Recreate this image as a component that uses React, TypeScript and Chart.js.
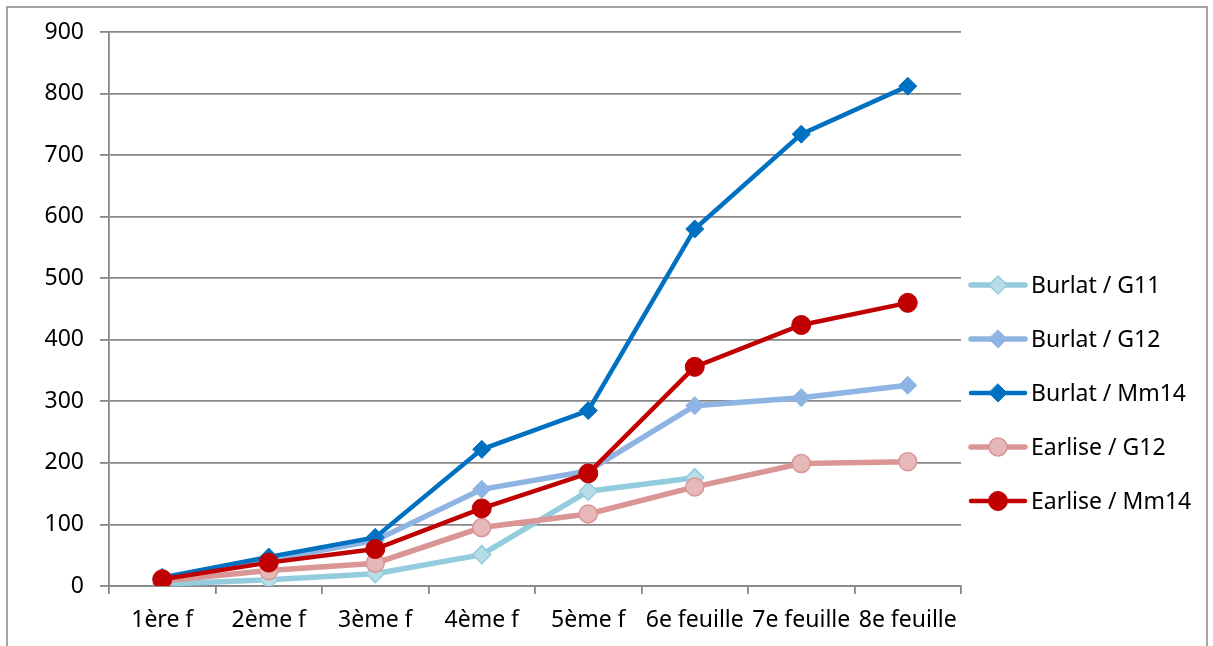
import React, { useEffect, useRef } from "react";
import { Chart, registerables } from "chart.js";

Chart.register(...registerables);

const categories = ["1ère f", "2ème f", "3ème f", "4ème f", "5ème f", "6e feuille", "7e feuille", "8e feuille"];
const burlatG11 = [3, 10, 20, 51, 154, 176, null, null];
const burlatG12 = [12, 42, 74, 157, 187, 293, 306, 326];
const burlatMm14 = [14, 47, 79, 222, 285, 580, 734, 812];
const earliseG12 = [8, 25, 37, 95, 117, 161, 199, 202];
const earliseMm14 = [11, 38, 60, 126, 183, 356, 424, 460];
const seriesNames = ["Burlat / G11", "Burlat / G12", "Burlat / Mm14", "Earlise / G12", "Earlise / Mm14"];
const yTicks = [0, 100, 200, 300, 400, 500, 600, 700, 800, 900];

const FONT = '"Noto Sans", sans-serif';
const GRID = "#878787";

function drawMarker(ctx: CanvasRenderingContext2D, style: string, x: number, y: number, r: number, fill: string, stroke: string, bw: number) {
  ctx.save();
  ctx.beginPath();
  if (style === "rectRot") {
    ctx.moveTo(x, y - r);
    ctx.lineTo(x + r, y);
    ctx.lineTo(x, y + r);
    ctx.lineTo(x - r, y);
    ctx.closePath();
  } else {
    ctx.arc(x, y, r, 0, Math.PI * 2);
  }
  ctx.fillStyle = fill;
  ctx.fill();
  if (bw > 0) {
    ctx.lineWidth = bw;
    ctx.strokeStyle = stroke;
    ctx.stroke();
  }
  ctx.restore();
}

const framePlugin = {
  id: "frameAndLegend",
  beforeDraw(chart: any) {
    const ctx = chart.ctx as CanvasRenderingContext2D;
    ctx.save();
    ctx.fillStyle = "#fff";
    ctx.fillRect(0, 0, chart.width, chart.height);
    ctx.strokeStyle = GRID;
    ctx.lineWidth = 1.5;
    ctx.strokeRect(7, 7, 1200, 700);
    ctx.restore();
  },
  afterDraw(chart: any) {
    const ctx = chart.ctx as CanvasRenderingContext2D;
    ctx.save();
    chart.data.datasets.forEach((ds: any, i: number) => {
      const y = 285 + i * 54;
      ctx.beginPath();
      ctx.moveTo(971, y);
      ctx.lineTo(1025, y);
      ctx.lineWidth = ds.borderWidth;
      ctx.strokeStyle = ds.borderColor;
      ctx.lineCap = "round";
      ctx.stroke();
      drawMarker(ctx, ds.pointStyle, 998, y, ds.pointRadius, ds.pointBackgroundColor, ds.pointBorderColor, ds.pointBorderWidth);
      ctx.fillStyle = "#000";
      ctx.font = `23px ${FONT}`;
      ctx.textBaseline = "middle";
      ctx.textAlign = "left";
      ctx.fillText(ds.label, 1031, y + 1);
    });
    ctx.restore();
  },
};

export default function App() {
  const ref = useRef<HTMLCanvasElement | null>(null);
  useEffect(() => {
    document.body.style.margin = "0";
    const canvas = ref.current!;
    const mk = (label: string, data: any[], line: string, fill: string, border: string, style: string, r: number, lw: number, bw: number, order: number) => ({
      label,
      data,
      borderColor: line,
      backgroundColor: line,
      borderWidth: lw,
      pointStyle: style,
      pointRadius: r,
      pointHoverRadius: r,
      pointBackgroundColor: fill,
      pointBorderColor: border,
      pointBorderWidth: bw,
      tension: 0,
      spanGaps: false,
      order,
    });
    const chart = new Chart(canvas, {
      type: "line",
      data: {
        labels: categories,
        datasets: [
          mk(seriesNames[0], burlatG11, "#93CDDD", "#B7DEE8", "#93CDDD", "rectRot", 9, 5.5, 1.5, 4),
          mk(seriesNames[1], burlatG12, "#8EB4E3", "#8EB4E3", "#8EB4E3", "rectRot", 9, 5.5, 1, 3),
          mk(seriesNames[2], burlatMm14, "#0070C0", "#0070C0", "#0070C0", "rectRot", 9, 4.5, 1, 2),
          mk(seriesNames[3], earliseG12, "#D99694", "#E6B9B8", "#D99694", "circle", 9, 5.5, 1.5, 1),
          mk(seriesNames[4], earliseMm14, "#C00000", "#C00000", "#C00000", "circle", 9.5, 4.5, 1, 0),
        ] as any,
      },
      options: {
        animation: false,
        responsive: false,
        devicePixelRatio: 1,
        layout: { padding: { left: 0, top: 32, right: 252, bottom: 0 } },
        plugins: { legend: { display: false }, tooltip: { enabled: false } },
        scales: {
          x: {
            offset: true,
            grid: { offset: true, drawOnChartArea: false, drawTicks: true, tickLength: 8, color: GRID, lineWidth: 1.8 },
            border: { display: true, color: GRID, width: 1.8 },
            ticks: { color: "#000", font: { family: FONT, size: 23 }, maxRotation: 0, minRotation: 0, autoSkip: false, padding: 13 },
            afterFit: (s: any) => { s.height = 60; },
          },
          y: {
            min: 0,
            max: 900,
            afterBuildTicks: (s: any) => { s.ticks = yTicks.map((v) => ({ value: v })); },
            grid: { color: GRID, lineWidth: 1.8, drawTicks: true, tickLength: 9 },
            border: { display: true, color: GRID, width: 1.8 },
            ticks: { color: "#000", font: { family: FONT, size: 23 }, padding: 16 },
            afterFit: (s: any) => { s.width = 109; },
          },
        },
      },
      plugins: [framePlugin],
    });
    return () => chart.destroy();
  }, []);
  return (
    <div style={{ width: 1213, height: 646 }}>
      <canvas ref={ref} width={1213} height={646} style={{ display: "block" }} />
    </div>
  );
}
